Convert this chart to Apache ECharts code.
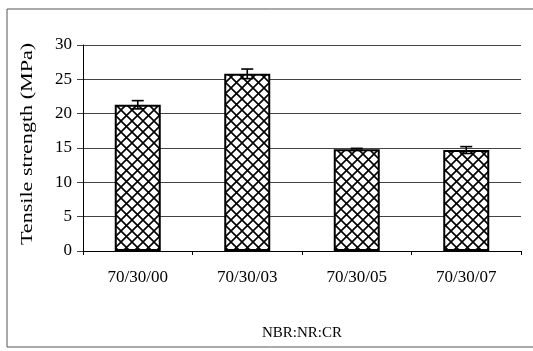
<!DOCTYPE html>
<html>
<head>
<meta charset="utf-8">
<script src="https://cdn.jsdelivr.net/npm/echarts@6/dist/echarts.min.js"></script>
<style>
html,body{margin:0;padding:0;background:#fff;}
#chart{width:533px;height:351px;}
</style>
</head>
<body>
<div id="chart"></div>
<script>
var categories = ['70/30/00', '70/30/03', '70/30/05', '70/30/07'];
var tensileStrength = [21.3, 25.8, 14.8, 14.7];
var errorValues = [0.6, 0.7, 0.15, 0.5];
var yTicks = [0, 5, 10, 15, 20, 25, 30];
var yAxisTitle = 'Tensile strength (MPa)';
var xAxisTitle = 'NBR:NR:CR';

function makeHatch() {
  var s = 11;
  var c = document.createElement('canvas');
  c.width = s; c.height = s;
  var g = c.getContext('2d');
  g.fillStyle = '#ffffff';
  g.fillRect(0, 0, s, s);
  g.strokeStyle = '#000000';
  g.lineWidth = 1.6;
  g.beginPath();
  g.moveTo(-2, -2); g.lineTo(s + 2, s + 2);
  g.moveTo(s + 2, -2); g.lineTo(-2, s + 2);
  g.stroke();
  return c;
}

var chart = echarts.init(document.getElementById('chart'), null, {renderer: 'canvas'});
var font = 'Liberation Serif, Times New Roman, serif';

var errData = categories.map(function (c, i) {
  return [i, tensileStrength[i] - errorValues[i], tensileStrength[i] + errorValues[i]];
});

chart.setOption({
  backgroundColor: '#ffffff',
  animation: false,
  graphic: [{
    type: 'rect',
    shape: {x: 7, y: 9, width: 540, height: 338},
    style: {fill: 'none', stroke: '#555', lineWidth: 1}
  }, {
    type: 'text',
    x: 28,
    y: 144,
    rotation: Math.PI / 2,
    scaleX: 1.3,
    style: {
      text: yAxisTitle,
      font: '17px ' + font,
      fill: '#000',
      align: 'center',
      verticalAlign: 'middle'
    }
  }],
  grid: {left: 83, right: 12, top: 45, bottom: 100},
  xAxis: {
    type: 'category',
    data: categories,
    name: xAxisTitle,
    nameLocation: 'middle',
    nameGap: 75,
    nameTextStyle: {fontFamily: font, fontSize: 15, color: '#000', verticalAlign: 'top'},
    axisLine: {lineStyle: {color: '#000', width: 1}},
    axisTick: {show: true, length: 4, lineStyle: {color: '#000'}},
    axisLabel: {fontFamily: font, fontSize: 17, color: '#000', margin: 18}
  },
  yAxis: {
    type: 'value',
    min: yTicks[0],
    max: yTicks[yTicks.length - 1],
    interval: 5,
    axisLine: {show: true, lineStyle: {color: '#000', width: 1}},
    axisTick: {show: true, length: 6, lineStyle: {color: '#444'}},
    axisLabel: {fontFamily: font, fontSize: 17, color: '#000', margin: 11},
    splitLine: {show: true, lineStyle: {color: '#444', width: 1}}
  },
  series: [{
    type: 'bar',
    data: tensileStrength,
    barWidth: 46,
    itemStyle: {
      color: {image: makeHatch(), repeat: 'repeat'},
      borderColor: '#000',
      borderWidth: 2
    }
  }, {
    type: 'custom',
    data: errData,
    z: 5,
    renderItem: function (params, api) {
      var x = api.value(0);
      var lo = api.coord([x, api.value(1)]);
      var hi = api.coord([x, api.value(2)]);
      var w = 6;
      var st = {stroke: '#000', lineWidth: 1.6};
      return {
        type: 'group',
        children: [
          {type: 'line', shape: {x1: hi[0], y1: hi[1], x2: lo[0], y2: lo[1]}, style: st},
          {type: 'line', shape: {x1: hi[0] - w, y1: hi[1], x2: hi[0] + w, y2: hi[1]}, style: st},
          {type: 'line', shape: {x1: lo[0] - w, y1: lo[1], x2: lo[0] + w, y2: lo[1]}, style: st}
        ]
      };
    }
  }]
});
</script>
</body>
</html>
